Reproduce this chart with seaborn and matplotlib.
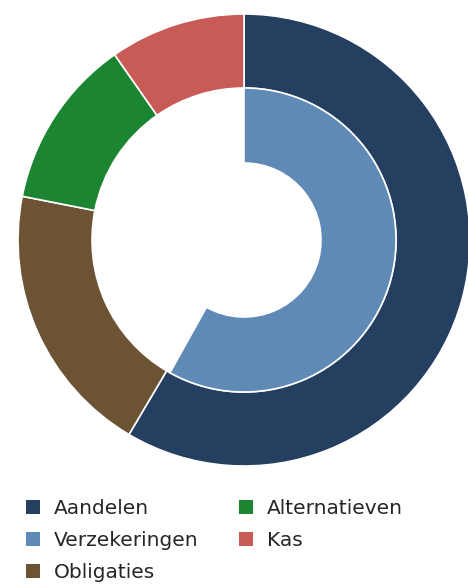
import matplotlib
matplotlib.use("Agg")
import matplotlib.pyplot as plt
import matplotlib.patches as mpatches
import seaborn as sns

# outer ring: asset allocation (percent)
outer_labels = ["Aandelen", "Obligaties", "Alternatieven", "Kas"]
outer_values = [58.5, 19.6, 12.2, 9.7]
# inner ring: insurance share inside equities (percent of the full circle)
inner_labels = ["Verzekeringen"]
inner_values = [58.1]

colors = {
    "Aandelen": "#253f61",
    "Verzekeringen": "#5f8ab5",
    "Obligaties": "#6b5334",
    "Alternatieven": "#1b8531",
    "Kas": "#c85b56",
}
legend_order = ["Aandelen", "Verzekeringen", "Obligaties", "Alternatieven", "Kas"]

sns.set_style("white")
plt.rcParams["font.family"] = ["DejaVu Sans"]

W, H = 468, 585
fig = plt.figure(figsize=(W / 100, H / 100), dpi=100)

# pie centre and radius in pixels
cx, cy, r = 244, 240, 226
ax = fig.add_axes([(cx - r) / W, (H - cy - r) / H, 2 * r / W, 2 * r / H])

ring_outer = 1.0
ring_mid = 152 / r
ring_inner = 77 / r

ax.pie(outer_values, radius=ring_outer, startangle=90, counterclock=False,
       colors=[colors[k] for k in outer_labels],
       wedgeprops=dict(width=ring_outer - ring_mid, edgecolor="white", linewidth=1.2))

inner_rest = 100 - sum(inner_values)
wedges, _ = ax.pie(inner_values + [inner_rest], radius=ring_mid, startangle=90, counterclock=False,
                   colors=[colors[k] for k in inner_labels] + ["white"],
                   wedgeprops=dict(width=ring_mid - ring_inner, edgecolor="white", linewidth=1.2))
wedges[-1].set_visible(False)

ax.set_xlim(-1, 1)
ax.set_ylim(-1, 1)
ax.set_aspect("equal")
ax.axis("off")

handles = [mpatches.Patch(facecolor=colors[k], edgecolor="none", label=k) for k in legend_order]
fig.legend(handles=handles, ncol=2, loc="upper left",
           bbox_to_anchor=(26 / W, 1 - 499 / H), frameon=False,
           fontsize=14.5, handlelength=0.7, handleheight=0.7, handletextpad=0.7,
           columnspacing=2.0, labelspacing=0.64, borderpad=0, borderaxespad=0,
           labelcolor="#262626")

fig.savefig("out.png", dpi=100)
